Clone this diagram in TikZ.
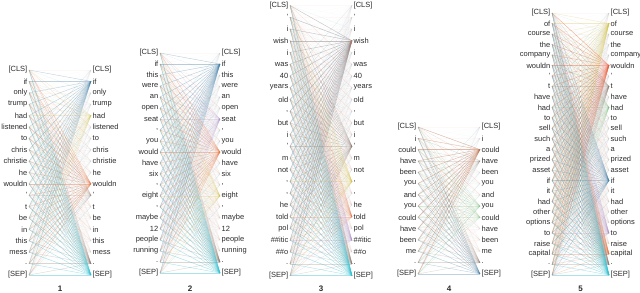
\documentclass[tikz,border=0pt]{standalone}
\usepackage{fontspec}
\setmainfont{Liberation Sans}
\usepackage{tikz}
\usepackage{xcolor}
\usetikzlibrary{positioning}
\definecolor{tokText}  {HTML}{2B2B2B}
\definecolor{hubBlue}  {HTML}{3D7EA8}
\definecolor{hubOrange}{HTML}{E8733F}
\definecolor{hubRed}   {HTML}{EE5A3A}
\definecolor{hubGray}  {HTML}{8A7A70}
\definecolor{hubCyan}  {HTML}{2CC3D6}
\definecolor{hubYellow}{HTML}{D8C644}
\definecolor{hubPurple}{HTML}{A88ACB}
\definecolor{hubGreen} {HTML}{6EBE73}
\definecolor{bg0}      {HTML}{EE9C76}
\definecolor{bg1}      {HTML}{86C0CA}
\definecolor{bg2}      {HTML}{B5A598}
\definecolor{bg3}      {HTML}{9AB5D6}
\definecolor{bg4}      {HTML}{E7A09C}

\tikzset{
  tokL/.style={anchor=east, inner sep=1.5pt, text=tokText,
               font=\fontsize{7.5}{8}\selectfont},
  tokR/.style={anchor=west, inner sep=1.5pt, text=tokText,
               font=\fontsize{7.5}{8}\selectfont},
  faintline/.style={line width=.3pt, draw opacity=.06},
  diagline/.style={line width=.35pt},
  hubline/.style={line width=.4pt},
  panellabel/.style={font=\bfseries\fontsize{8}{9}\selectfont, text=tokText},
}

% one attention panel: name, x left, x right, y top, y step, tokens, hubs, label
\newcommand{\attnpanel}[8]{%
  \foreach \t [count=\k from 0] in {#6} {
    \node[tokL] (#1L\k) at (#2, #4+\k*#5) {\t};
    \node[tokR] (#1R\k) at (#3, #4+\k*#5) {\t};
    \xdef\nmax{\k}
  }
  \pgfmathtruncatemacro\ntok{\nmax+1}
  % faint all-to-all
  \foreach \i in {0,...,\nmax} {
    \foreach \j in {0,...,\nmax} {
      \pgfmathtruncatemacro\c{mod(\i*7+\j*3,5)}
      \draw[faintline, draw=bg\c] (#1L\i.east) -- (#1R\j.west);
    }
  }
  % offset heads
  \foreach \i in {0,...,\nmax} {
    \foreach \d/\col/\op in {5/bg0/.25, 11/bg0/.17, -6/bg1/.25, -12/bg3/.17, 2/bg1/.13} {
      \pgfmathtruncatemacro\j{\i+\d}
      \ifnum\j>-1 \ifnum\j<\ntok
        \draw[diagline, draw=\col, draw opacity=\op] (#1L\i.east) -- (#1R\j.west);
      \fi\fi
    }
  }
  % heads that gather on one token
  \foreach \h/\col/\op in {#7} {
    \foreach \i in {0,...,\nmax} {
      \draw[hubline, draw=\col, draw opacity=\op] (#1L\i.east) -- (#1R\h.west);
    }
  }
  \node[panellabel] (#1lab) at ({(#2+#3)/2}, 289) {#8};
}

\begin{document}
\begin{tikzpicture}[x=1pt, y=-1pt]
  \useasboundingbox (0,0) rectangle (640,292);

  \attnpanel{pa}{29}{91}{70}{11.39}
    {{[CLS]},if,only,trump,had,listened,to,chris,christie,he,wouldn,',t,be,in,this,mess,.,{[SEP]}}
    {1/hubBlue/.32, 10/hubOrange/.36, 17/hubGray/.28, 18/hubCyan/.4, 4/hubYellow/.2, 11/hubGray/.15}
    {1}

  \attnpanel{pb}{160}{220}{53}{11}
    {{[CLS]},if,this,were,an,open,seat,{,},you,would,have,six,{,},eight,{,},maybe,12,people,running,.,{[SEP]}}
    {1/hubBlue/.36, 9/hubOrange/.36, 19/hubGray/.28, 20/hubCyan/.4, 6/hubPurple/.2, 13/hubYellow/.2}
    {2}

  \attnpanel{pc}{290}{352}{5.5}{11.74}
    {{[CLS]},',i,wish,i,was,40,years,old,{,},but,i,',m,not,{,},{,},he,told,pol,\#\#itic,\#\#o,.,{[SEP]}}
    {3/hubBlue/.3, 3/hubOrange/.16, 12/hubGray/.28, 22/hubGray/.24, 23/hubCyan/.4, 18/hubOrange/.2, 15/hubYellow/.24, 20/hubPurple/.2}
    {3}

  \attnpanel{pd}{418}{480}{127}{11.3}
    {{[CLS]},i,could,have,been,you,and,you,could,have,been,me,.,{[SEP]}}
    {2/hubOrange/.36, 2/hubGray/.16, 13/hubBlue/.32, 12/hubGray/.24, 7/hubGreen/.2, 3/hubGray/.16, 8/hubGreen/.16}
    {4}

  \attnpanel{pe}{552}{609}{13}{10.48}
    {{[CLS]},of,course,the,company,wouldn,',t,have,had,to,sell,such,a,prized,asset,if,it,had,other,options,to,raise,capital,.,{[SEP]}}
    {1/hubYellow/.28, 5/hubRed/.4, 7/hubGray/.24, 16/hubBlue/.32, 23/hubOrange/.28, 24/hubGray/.24, 25/hubCyan/.4, 21/hubPurple/.2, 9/hubGreen/.16}
    {5}
\end{tikzpicture}
\end{document}
